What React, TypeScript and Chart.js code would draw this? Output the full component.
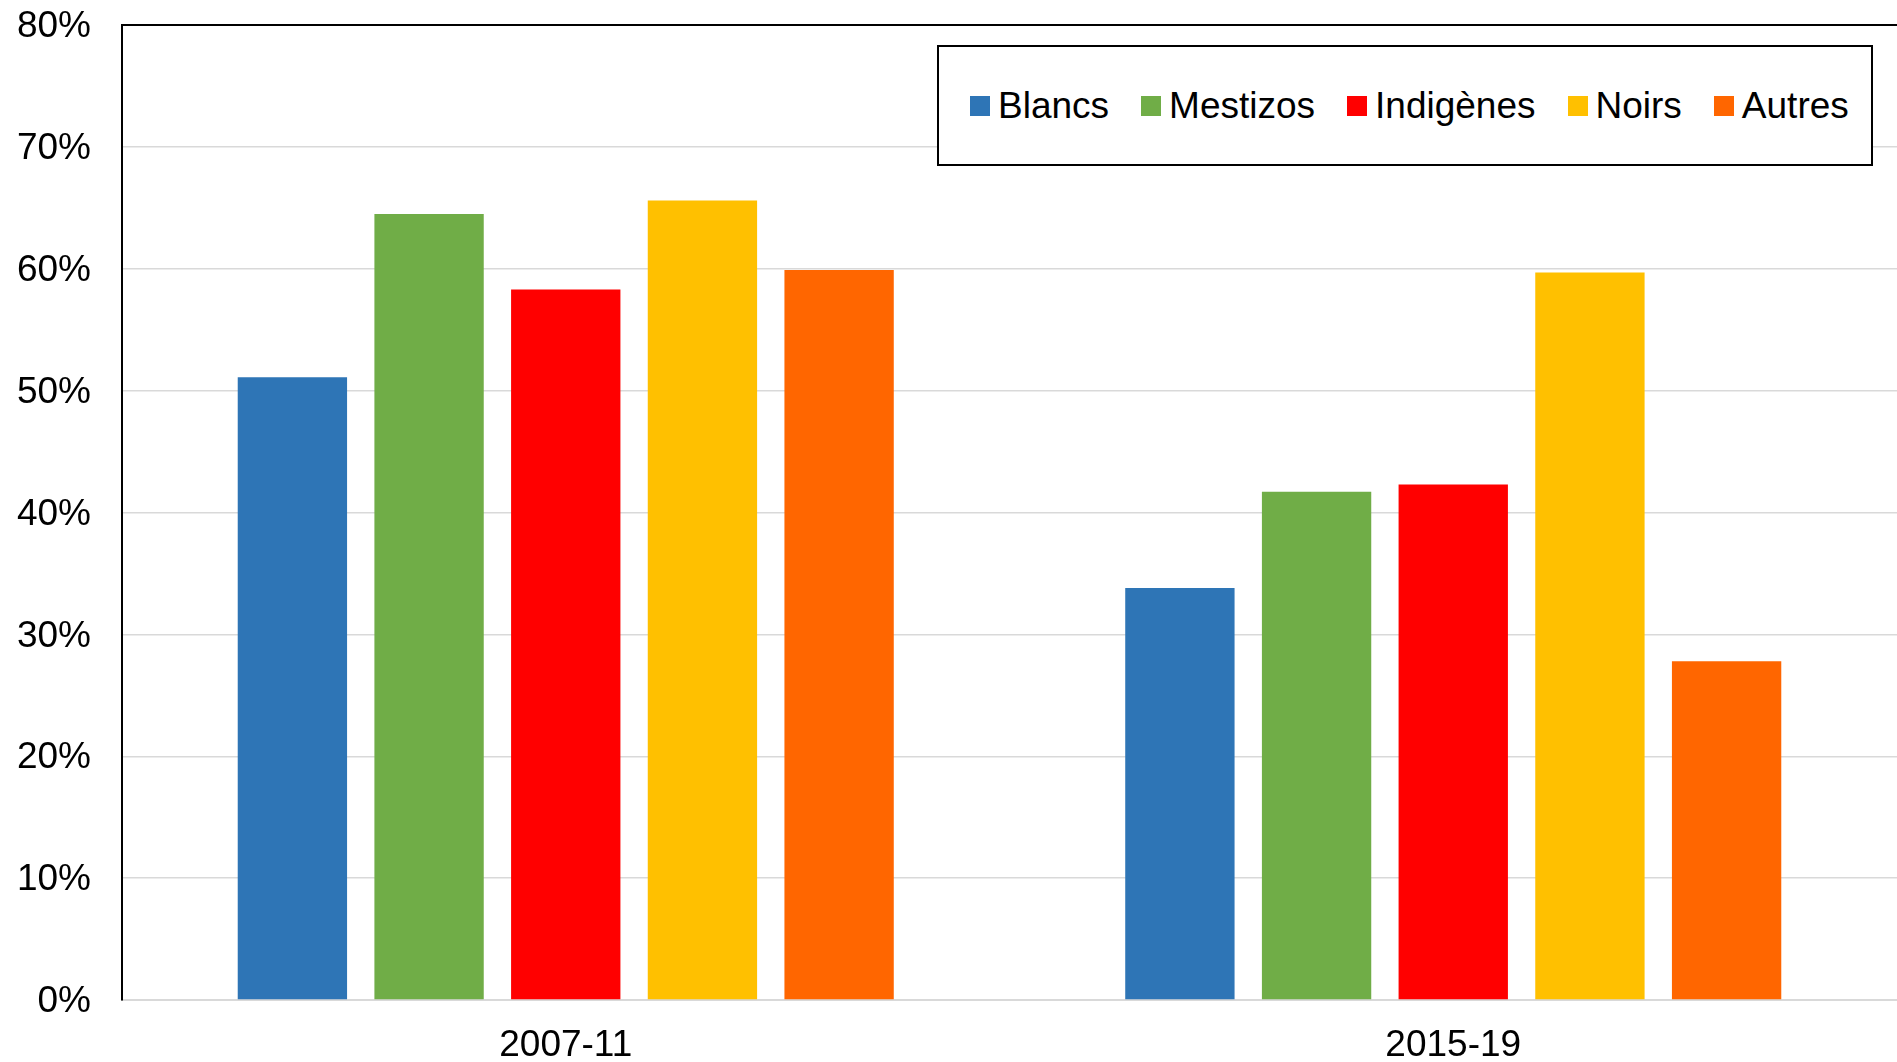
import React, { useEffect, useRef } from "react";
import { Chart, registerables } from "chart.js";

Chart.register(...registerables);

const CATEGORIES = ["2007-11", "2015-19"];
const SERIES_NAMES = ["Blancs", "Mestizos", "Indigènes", "Noirs", "Autres"];
const SERIES_COLORS = ["#2E75B6", "#70AD47", "#FF0000", "#FFC000", "#FF6600"];
const BLANCS = [51.1, 33.8];
const MESTIZOS = [64.5, 41.7];
const INDIGENES = [58.3, 42.3];
const NOIRS = [65.6, 59.7];
const AUTRES = [59.9, 27.8];
const SERIES_VALUES = [BLANCS, MESTIZOS, INDIGENES, NOIRS, AUTRES];
const Y_MIN = 0;
const Y_MAX = 80;
const Y_STEP = 10;

const FONT = "'Liberation Sans', Arial, Helvetica, sans-serif";
const FONT_SIZE = 37;

const topBorder = {
  id: "topBorder",
  afterDraw(chart: any) {
    const { ctx, chartArea } = chart;
    ctx.save();
    ctx.strokeStyle = "#000";
    ctx.lineWidth = 2;
    ctx.beginPath();
    ctx.moveTo(chartArea.left - 1, chartArea.top);
    ctx.lineTo(chartArea.right, chartArea.top);
    ctx.stroke();
    ctx.restore();
  },
};

export default function App() {
  const ref = useRef<HTMLCanvasElement | null>(null);

  useEffect(() => {
    document.body.style.margin = "0";
    const canvas = ref.current;
    if (!canvas) return;
    const chart = new Chart(canvas, {
      type: "bar",
      data: {
        labels: CATEGORIES,
        datasets: SERIES_NAMES.map((name, i) => ({
          label: name,
          data: SERIES_VALUES[i],
          backgroundColor: SERIES_COLORS[i],
          borderWidth: 0,
          barPercentage: 0.8,
          categoryPercentage: 0.77,
        })),
      },
      options: {
        responsive: false,
        animation: false,
        maintainAspectRatio: false,
        layout: { padding: { top: 25, left: 0, right: 0, bottom: 0 } },
        plugins: {
          legend: { display: false },
          tooltip: { enabled: false },
        },
        scales: {
          x: {
            grid: { display: false, drawTicks: false },
            border: { display: true, color: "#D9D9D9", width: 2 },
            ticks: {
              color: "#000",
              font: { family: FONT, size: FONT_SIZE },
              padding: 24,
            },
            afterFit: (scale: any) => {
              scale.height = 62;
              scale.paddingLeft = 0;
              scale.paddingRight = 0;
            },
          },
          y: {
            min: Y_MIN,
            max: Y_MAX,
            grid: { color: "#D9D9D9", lineWidth: 1.5, drawTicks: false },
            border: { display: true, color: "#000", width: 2 },
            ticks: {
              stepSize: Y_STEP,
              color: "#000",
              font: { family: FONT, size: FONT_SIZE },
              padding: 31,
              labelOffset: 2,
              callback: (v: any) => `${v}%`,
            },
            afterFit: (scale: any) => {
              scale.width = 122;
              scale.paddingTop = 0;
              scale.paddingBottom = 0;
            },
          },
        },
      },
      plugins: [topBorder],
    });
    return () => chart.destroy();
  }, []);

  return (
    <div style={{ position: "relative", width: 1897, height: 1062, background: "#fff", overflow: "hidden" }}>
      <canvas ref={ref} width={1897} height={1062} style={{ display: "block", width: 1897, height: 1062 }} />
      <div
        style={{
          position: "absolute",
          left: 937,
          top: 45,
          width: 936,
          height: 121,
          boxSizing: "border-box",
          border: "2px solid #000",
          background: "#fff",
          display: "flex",
          alignItems: "center",
          paddingLeft: 31,
          fontFamily: FONT,
          fontSize: FONT_SIZE,
          color: "#000",
        }}
      >
        {SERIES_NAMES.map((name, i) => (
          <div key={name} style={{ display: "flex", alignItems: "center", marginRight: i < SERIES_NAMES.length - 1 ? 32 : 0 }}>
            <span style={{ display: "inline-block", width: 20, height: 20, background: SERIES_COLORS[i], marginRight: 8 }} />
            <span style={{ lineHeight: 1 }}>{name}</span>
          </div>
        ))}
      </div>
    </div>
  );
}
